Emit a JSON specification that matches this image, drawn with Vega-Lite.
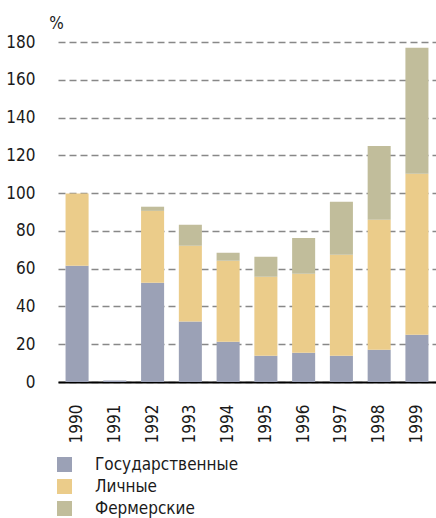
{
  "$schema": "https://vega.github.io/schema/vega-lite/v6.json",
  "autosize": {"type": "none"},
  "width": 378,
  "height": 340,
  "padding": {"left": 58, "top": 42, "right": 0, "bottom": 136},
  "background": "white",
  "config": {
    "font": "DejaVu Sans Condensed, DejaVu Sans, sans-serif",
    "view": {"stroke": null}
  },
  "data": {
    "values": [
      {"year": "1990", "type": "Государственные", "o": 1, "v": 61.5},
      {"year": "1990", "type": "Личные", "o": 2, "v": 38.3},
      {"year": "1990", "type": "Фермерские", "o": 3, "v": 0},
      {"year": "1991", "type": "Государственные", "o": 1, "v": 0.8},
      {"year": "1991", "type": "Личные", "o": 2, "v": 0},
      {"year": "1991", "type": "Фермерские", "o": 3, "v": 0},
      {"year": "1992", "type": "Государственные", "o": 1, "v": 52.5},
      {"year": "1992", "type": "Личные", "o": 2, "v": 38.1},
      {"year": "1992", "type": "Фермерские", "o": 3, "v": 2.2},
      {"year": "1993", "type": "Государственные", "o": 1, "v": 32},
      {"year": "1993", "type": "Личные", "o": 2, "v": 40.1},
      {"year": "1993", "type": "Фермерские", "o": 3, "v": 11.1},
      {"year": "1994", "type": "Государственные", "o": 1, "v": 21.3},
      {"year": "1994", "type": "Личные", "o": 2, "v": 42.9},
      {"year": "1994", "type": "Фермерские", "o": 3, "v": 4.2},
      {"year": "1995", "type": "Государственные", "o": 1, "v": 13.9},
      {"year": "1995", "type": "Личные", "o": 2, "v": 41.8},
      {"year": "1995", "type": "Фермерские", "o": 3, "v": 10.6},
      {"year": "1996", "type": "Государственные", "o": 1, "v": 15.5},
      {"year": "1996", "type": "Личные", "o": 2, "v": 41.8},
      {"year": "1996", "type": "Фермерские", "o": 3, "v": 19},
      {"year": "1997", "type": "Государственные", "o": 1, "v": 13.9},
      {"year": "1997", "type": "Личные", "o": 2, "v": 53.5},
      {"year": "1997", "type": "Фермерские", "o": 3, "v": 28},
      {"year": "1998", "type": "Государственные", "o": 1, "v": 17.1},
      {"year": "1998", "type": "Личные", "o": 2, "v": 68.8},
      {"year": "1998", "type": "Фермерские", "o": 3, "v": 39.1},
      {"year": "1999", "type": "Государственные", "o": 1, "v": 25},
      {"year": "1999", "type": "Личные", "o": 2, "v": 85.2},
      {"year": "1999", "type": "Фермерские", "o": 3, "v": 66.7}
    ]
  },
  "mark": {"type": "bar"},
  "encoding": {
    "x": {
      "field": "year", "type": "nominal",
      "scale": {"paddingInner": 0.39, "paddingOuter": 0.2},
      "axis": {
        "title": null, "labelAngle": -90, "labelFontSize": 17, "labelColor": "#1a1a1a",
        "labelPadding": 22, "ticks": false, "domain": true, "domainColor": "#000",
        "domainWidth": 2, "labelAlign": "right", "labelBaseline": "middle"
      }
    },
    "y": {
      "field": "v", "type": "quantitative", "stack": "zero",
      "scale": {"domain": [0, 180], "nice": false},
      "axis": {
        "values": [0, 20, 40, 60, 80, 100, 120, 140, 160, 180],
        "title": "%", "titleAngle": 0, "titleX": -2, "titleY": -14,
        "titleAlign": "center", "titleBaseline": "alphabetic",
        "titleFontSize": 17, "titleFontWeight": "normal", "titleColor": "#1a1a1a",
        "labelFontSize": 17, "labelColor": "#1a1a1a", "labelPadding": 23,
        "ticks": false, "domain": false,
        "grid": true, "gridDash": [7, 4], "gridColor": "#888", "gridWidth": 1.5
      }
    },
    "color": {
      "field": "type", "type": "nominal",
      "scale": {
        "domain": ["Государственные", "Личные", "Фермерские"],
        "range": ["#9BA1B6", "#EBCC8A", "#C1BD9B"]
      },
      "legend": {
        "title": null, "orient": "none", "legendX": -2, "legendY": 414,
        "symbolType": "square", "symbolSize": 225, "symbolStrokeWidth": 0,
        "symbolOpacity": 1,
        "labelFontSize": 17, "labelColor": "#1a1a1a", "labelOffset": 22,
        "rowPadding": 4
      }
    },
    "order": {"field": "o", "type": "quantitative"}
  }
}
